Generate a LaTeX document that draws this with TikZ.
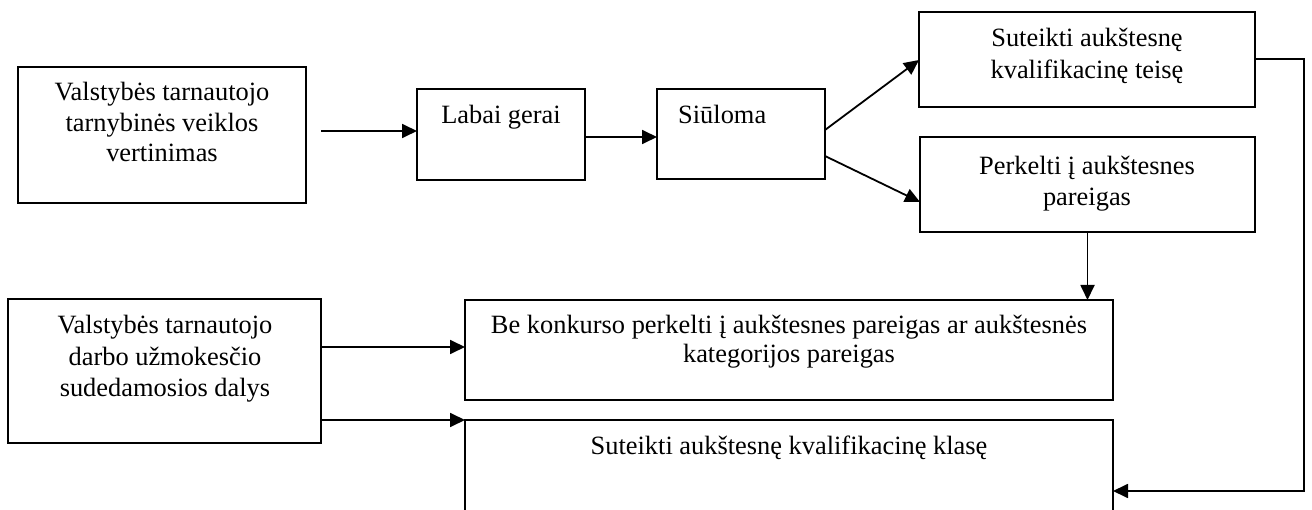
\documentclass[tikz,border=0pt]{standalone}
\usepackage{fontspec}
\setmainfont{Liberation Serif}
\usetikzlibrary{arrows.meta,calc}
\begin{document}
\begin{tikzpicture}[x=1pt,y=-1pt,
  box/.style={draw,line width=1.8pt,rectangle,inner sep=0pt,outer sep=0pt,anchor=north west},
  txt/.style={font=\fontsize{26.4}{31}\selectfont,align=center,anchor=base,inner sep=0pt},
  arr/.style={line width=1.8pt,-{Triangle[length=15pt,width=14pt]}}]
\useasboundingbox (0,0) rectangle (1312,510);
\clip (0,0) rectangle (1312,510);
% boxes
\node[box,minimum width=288pt,minimum height=136pt] (A) at (18,67) {};
\node[box,minimum width=168pt,minimum height=91pt] (B) at (417,89) {};
\node[box,minimum width=168pt,minimum height=90pt] (C) at (657,89) {};
\node[box,minimum width=336pt,minimum height=95pt] (E) at (919,12) {};
\node[box,minimum width=335pt,minimum height=95pt] (F) at (920,137) {};
\node[box,minimum width=313pt,minimum height=144pt] (D) at (8,299) {};
\node[box,minimum width=648pt,minimum height=100pt] (G) at (465,300) {};
\node[box,minimum width=648pt,minimum height=110pt] (H) at (465,420) {};
% texts (base anchor = baseline of the last line)
\node[txt,font=\fontsize{26.4}{30.5}\selectfont] (tA) at (162,162) {Valstybės tarnautojo\\tarnybinės veiklos\\vertinimas};
\node[txt] (tB) at (501,124) {Labai gerai};
\node[txt,anchor=base west] (tC) at (678,124) {Siūloma};
\node[txt,font=\fontsize{26.4}{32}\selectfont] (tE) at (1087,79) {Suteikti aukštesnę\\kvalifikacinę teisę};
\node[txt,font=\fontsize{26.4}{31}\selectfont] (tF) at (1087,206) {Perkelti į aukštesnes\\pareigas};
\node[txt,font=\fontsize{26.4}{31.5}\selectfont] (tD) at (165,397) {Valstybės tarnautojo\\darbo užmokesčio\\sudedamosios dalys};
\node[txt,font=\fontsize{26.4}{29}\selectfont] (tG) at (789,363) {Be konkurso perkelti į aukštesnes pareigas ar aukštesnės\\kategorijos pareigas};
\node[txt] (tH) at (789,454) {Suteikti aukštesnę kvalifikacinę klasę};
% connectors
\coordinate (a1) at (321,131);
\draw[arr] (a1) -- (a1 -| B.west);
\draw[arr] (B.east |- 0,137) -- (C.west |- 0,137);
\draw[arr] (C.east |- 0,130) -- (E.west |- 0,60);
\draw[arr] (C.east |- 0,156) -- (F.west |- 0,202);
\draw[arr] (F.south) -- (F.south |- G.north);
\coordinate (r1) at (1304,491);
\draw[arr] (E.east |- 0,59) -| (r1) -- (r1 -| H.east);
\draw[arr] (D.east |- 0,347) -- (G.west |- 0,347);
\draw[arr] (D.east |- 0,420) -- (H.north west);
\end{tikzpicture}
\end{document}
